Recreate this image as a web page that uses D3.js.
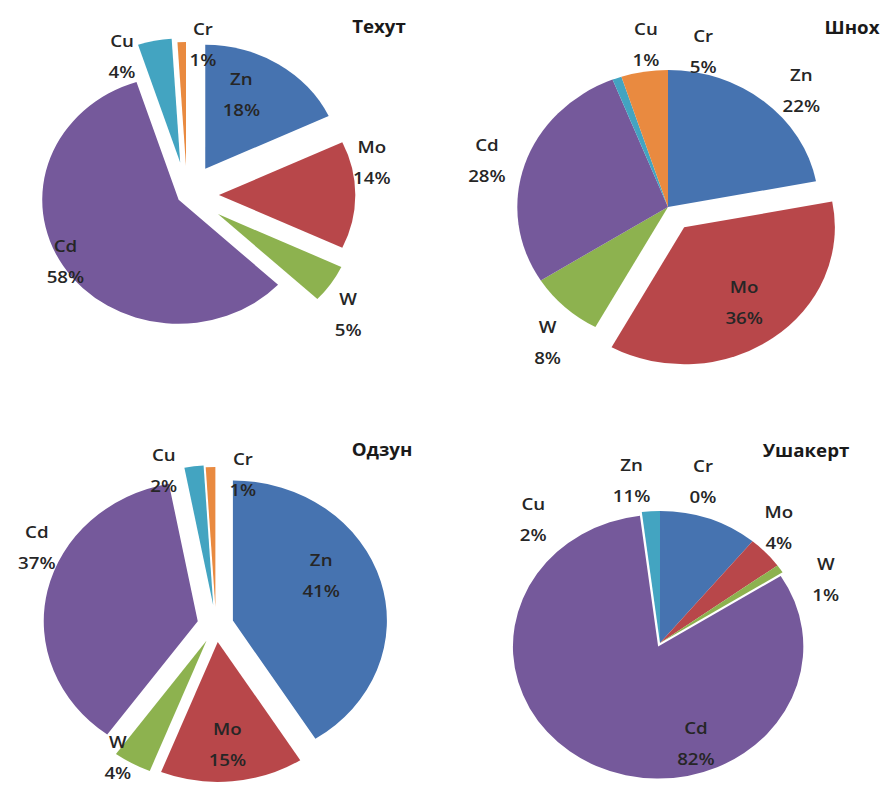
<!DOCTYPE html>
<html>
<head>
<meta charset="utf-8">
<script src="https://cdnjs.cloudflare.com/ajax/libs/d3/7.8.5/d3.min.js"></script>
<style>
  html, body { margin: 0; padding: 0; background: #fff; }
  svg { display: block; }
  .lbl { font-family: "Open Sans", "DejaVu Sans", sans-serif; font-size: 17px; font-weight: 600; fill: #262626; }
  .ttl { font-family: "Open Sans", "DejaVu Sans", sans-serif; font-size: 17px; font-weight: 700; fill: #1a1a1a; }
</style>
</head>
<body>
<div id="chart"></div>
<script>
// metals, in the order Excel drew them (clockwise from 12 o'clock)
const categories = ["Zn", "Mo", "W", "Cd", "Cu", "Cr"];
const siteNames = ["Техут", "Шнох", "Одзун", "Ушакерт"];

// share of each metal, %
const tekhutValues   = [18, 14, 5, 58, 4, 1];
const shnokhValues   = [22, 36, 8, 28, 1, 5];
const odzunValues    = [41, 15, 4, 37, 2, 1];
const ushakertValues = [11, 4, 1, 82, 2, 0];

const colors = ["#4673b0", "#b8474a", "#8db24f", "#75599b", "#43a4c1", "#e98a40"];

let width = 887;
let height = 785;
let stretch = 1.1; // source picture is a bit wider than tall

// placement of each pie: centre, radius, explosion per slice (px),
// label position as [angle deg, radius fraction]
let layout = [
    { cx: 187, cy: 195, r: 124, title: [379, 33],
      explode: [31, 29, 34, 9, 33, 29],
      labels: [[26, 0.91], [79, 1.38], [129, 1.52], [239, 1.04], [337, 1.22], [5.5, 1.22]] },
    { cx: 668, cy: 207, r: 137, title: [852, 34],
      explode: [0, 25, 0, 0, 0, 0],
      labels: [[46, 1.23], [144, 0.86], [219, 1.27], [286, 1.25], [353, 1.2], [11.6, 1.16]] },
    { cx: 216, cy: 625, r: 140, title: [382, 456],
      explode: [16, 17, 18, 17, 20, 18],
      labels: [[62.5, 0.77], [175, 0.85], [214, 1.14], [295.6, 1.29], [343, 1.16], [9.2, 1.09]] },
    { cx: 660, cy: 643, r: 132, title: [806, 457],
      explode: [0, 0, 0, 4, 0, 0],
      labels: [[351, 1.25], [43, 1.2], [67, 1.24], [162, 0.8], [317, 1.28], [13.6, 1.26]] }
];

let allValues = [tekhutValues, shnokhValues, odzunValues, ushakertValues];

let svg = d3.select('#chart')
    .append('svg')
    .attr('width', width)
    .attr('height', height);

let pie = d3.pie()
    .sort(null)
    .value(d => d);

allValues.forEach((values, k) => {
    let L = layout[k];
    let total = d3.sum(values);
    let arcs = pie(values);

    let arc = d3.arc()
        .innerRadius(0)
        .outerRadius(L.r);

    let g = svg.append('g')
        .attr('transform', `translate(${L.cx},${L.cy}) scale(${stretch},1)`);

    g.selectAll('path')
        .data(arcs)
        .enter()
        .append('path')
        .attr('d', arc)
        .attr('fill', (d, i) => colors[i])
        .attr('transform', (d, i) => {
            let mid = (d.startAngle + d.endAngle) / 2;
            let e = L.explode[i];
            return `translate(${e * Math.sin(mid)},${-e * Math.cos(mid)})`;
        });

    // data labels: name on one line, percent below
    let lab = svg.append('g');
    arcs.forEach((d, i) => {
        let a = L.labels[i][0] * Math.PI / 180;
        let rr = L.labels[i][1] * L.r;
        let x = L.cx + stretch * rr * Math.sin(a);
        let y = L.cy - rr * Math.cos(a);
        let t = lab.append('text')
            .attr('class', 'lbl')
            .attr('text-anchor', 'middle')
            .attr('transform', `translate(${x},${y}) scale(${stretch},1)`);
        t.append('tspan')
            .attr('x', 0)
            .attr('y', -9)
            .text(categories[i]);
        t.append('tspan')
            .attr('x', 0)
            .attr('y', 22)
            .text(Math.round(d.value / total * 100) + "%");
    });

    svg.append('text')
        .attr('class', 'ttl')
        .attr('text-anchor', 'middle')
        .attr('transform', `translate(${L.title[0]},${L.title[1]}) scale(${stretch},1)`)
        .text(siteNames[k]);
});
</script>
</body>
</html>
